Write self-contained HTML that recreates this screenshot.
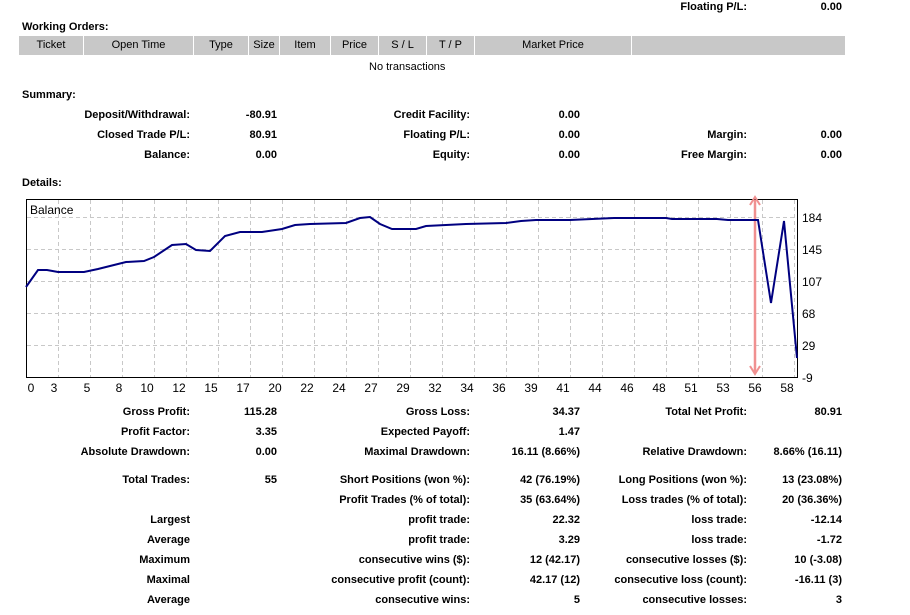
<!DOCTYPE html>
<html><head><meta charset="utf-8"><style>
body{margin:0;width:910px;height:615px;background:#fff;font-family:"Liberation Sans",sans-serif;font-size:11px;font-weight:bold;color:#000;position:relative;overflow:hidden}
.a{position:absolute;white-space:nowrap;line-height:13px;margin-top:1px}
.r{text-align:right}
.th{position:absolute;top:36px;height:19px;background:#c8c8c8;font-weight:normal;text-align:center;line-height:19px}
</style></head><body>
<div class="a r" style="right:163px;top:0">Floating P/L:</div>
<div class="a r" style="right:68px;top:0">0.00</div>
<div class="a" style="left:22px;top:20px">Working Orders:</div>
<div class="th" style="left:19px;width:64px">Ticket</div>
<div class="th" style="left:84px;width:109px">Open Time</div>
<div class="th" style="left:194px;width:54px">Type</div>
<div class="th" style="left:249px;width:30px">Size</div>
<div class="th" style="left:280px;width:50px">Item</div>
<div class="th" style="left:331px;width:47px">Price</div>
<div class="th" style="left:379px;width:47px">S / L</div>
<div class="th" style="left:427px;width:47px">T / P</div>
<div class="th" style="left:475px;width:156px">Market Price</div>
<div class="th" style="left:632px;width:213px"></div>
<div class="a" style="left:369px;top:60px;font-weight:normal">No transactions</div>
<div class="a" style="left:22px;top:88px">Summary:</div>

<div class="a r" style="right:720px;top:108px">Deposit/Withdrawal:</div><div class="a r" style="right:633px;top:108px">-80.91</div>
<div class="a r" style="right:440px;top:108px">Credit Facility:</div><div class="a r" style="right:330px;top:108px">0.00</div>
<div class="a r" style="right:720px;top:128px">Closed Trade P/L:</div><div class="a r" style="right:633px;top:128px">80.91</div>
<div class="a r" style="right:440px;top:128px">Floating P/L:</div><div class="a r" style="right:330px;top:128px">0.00</div>
<div class="a r" style="right:163px;top:128px">Margin:</div><div class="a r" style="right:68px;top:128px">0.00</div>
<div class="a r" style="right:720px;top:148px">Balance:</div><div class="a r" style="right:633px;top:148px">0.00</div>
<div class="a r" style="right:440px;top:148px">Equity:</div><div class="a r" style="right:330px;top:148px">0.00</div>
<div class="a r" style="right:163px;top:148px">Free Margin:</div><div class="a r" style="right:68px;top:148px">0.00</div>
<div class="a" style="left:22px;top:176px">Details:</div>

<svg style="position:absolute;left:0;top:0;font-weight:normal" width="910" height="400" font-family="Liberation Sans, sans-serif" font-size="12" font-weight="normal">
<g stroke="#c8c8c8" stroke-dasharray="4,3" stroke-width="1">
<path d="M58.5 200V377M90.5 200V377M122.5 200V377M154.5 200V377M186.5 200V377M218.5 200V377M250.5 200V377M282.5 200V377M314.5 200V377M346.5 200V377M378.5 200V377M410.5 200V377M442.5 200V377M474.5 200V377M506.5 200V377M538.5 200V377M570.5 200V377M602.5 200V377M634.5 200V377M666.5 200V377M698.5 200V377M730.5 200V377M762.5 200V377M794.5 200V377"/>
<path d="M27 217.5H797M27 249.5H797M27 281.5H797M27 313.5H797M27 345.5H797"/>
</g>
<rect x="26.5" y="199.5" width="771" height="178" fill="none" stroke="#000"/>
<text x="30" y="214" font-weight="normal">Balance</text>
<line x1="755" y1="200" x2="755" y2="372" stroke="#f09090" stroke-width="2.5"/>
<path d="M750 205L755 197L760 205M750 366L755 374L760 366" fill="none" stroke="#f09090" stroke-width="2"/>
<polyline fill="none" stroke="#000080" stroke-width="2" points="26,287 38,270 47,270 58,272 84,272 98,269 118,264 126,262 144,261 154,257 172,245 186,244 196,250 210,251 225,236 240,232 262,232 282,229 295,225 310,224 346,223 360,218 370,217 380,224 392,229 416,229 426,226 466,224 506,223 521,221 536,220 570,220 614,218 666,218 672,219 717,219 728,220 758,220 771,303 784,221 797,358"/>
<g font-weight="normal">
<text x="802" y="222">184</text><text x="802" y="254">145</text><text x="802" y="286">107</text><text x="802" y="318">68</text><text x="802" y="350">29</text><text x="802" y="382">-9</text>
</g>
<g text-anchor="middle" font-weight="normal">
<text x="31" y="392">0</text><text x="54" y="392">3</text><text x="87" y="392">5</text><text x="119" y="392">8</text><text x="147" y="392">10</text><text x="179" y="392">12</text><text x="211" y="392">15</text><text x="243" y="392">17</text><text x="275" y="392">20</text><text x="307" y="392">22</text><text x="339" y="392">24</text><text x="371" y="392">27</text><text x="403" y="392">29</text><text x="435" y="392">32</text><text x="467" y="392">34</text><text x="499" y="392">36</text><text x="531" y="392">39</text><text x="563" y="392">41</text><text x="595" y="392">44</text><text x="627" y="392">46</text><text x="659" y="392">48</text><text x="691" y="392">51</text><text x="723" y="392">53</text><text x="755" y="392">56</text><text x="787" y="392">58</text>
</g>
</svg>

<div class="a r" style="right:720px;top:405px">Gross Profit:</div><div class="a r" style="right:633px;top:405px">115.28</div>
<div class="a r" style="right:440px;top:405px">Gross Loss:</div><div class="a r" style="right:330px;top:405px">34.37</div>
<div class="a r" style="right:163px;top:405px">Total Net Profit:</div><div class="a r" style="right:68px;top:405px">80.91</div>
<div class="a r" style="right:720px;top:425px">Profit Factor:</div><div class="a r" style="right:633px;top:425px">3.35</div>
<div class="a r" style="right:440px;top:425px">Expected Payoff:</div><div class="a r" style="right:330px;top:425px">1.47</div>
<div class="a r" style="right:720px;top:445px">Absolute Drawdown:</div><div class="a r" style="right:633px;top:445px">0.00</div>
<div class="a r" style="right:440px;top:445px">Maximal Drawdown:</div><div class="a r" style="right:330px;top:445px">16.11 (8.66%)</div>
<div class="a r" style="right:163px;top:445px">Relative Drawdown:</div><div class="a r" style="right:68px;top:445px">8.66% (16.11)</div>
<div class="a r" style="right:720px;top:473px">Total Trades:</div><div class="a r" style="right:633px;top:473px">55</div>
<div class="a r" style="right:440px;top:473px">Short Positions (won %):</div><div class="a r" style="right:330px;top:473px">42 (76.19%)</div>
<div class="a r" style="right:163px;top:473px">Long Positions (won %):</div><div class="a r" style="right:68px;top:473px">13 (23.08%)</div>
<div class="a r" style="right:440px;top:493px">Profit Trades (% of total):</div><div class="a r" style="right:330px;top:493px">35 (63.64%)</div>
<div class="a r" style="right:163px;top:493px">Loss trades (% of total):</div><div class="a r" style="right:68px;top:493px">20 (36.36%)</div>
<div class="a r" style="right:720px;top:513px">Largest</div>
<div class="a r" style="right:440px;top:513px">profit trade:</div><div class="a r" style="right:330px;top:513px">22.32</div>
<div class="a r" style="right:163px;top:513px">loss trade:</div><div class="a r" style="right:68px;top:513px">-12.14</div>
<div class="a r" style="right:720px;top:533px">Average</div>
<div class="a r" style="right:440px;top:533px">profit trade:</div><div class="a r" style="right:330px;top:533px">3.29</div>
<div class="a r" style="right:163px;top:533px">loss trade:</div><div class="a r" style="right:68px;top:533px">-1.72</div>
<div class="a r" style="right:720px;top:553px">Maximum</div>
<div class="a r" style="right:440px;top:553px">consecutive wins ($):</div><div class="a r" style="right:330px;top:553px">12 (42.17)</div>
<div class="a r" style="right:163px;top:553px">consecutive losses ($):</div><div class="a r" style="right:68px;top:553px">10 (-3.08)</div>
<div class="a r" style="right:720px;top:573px">Maximal</div>
<div class="a r" style="right:440px;top:573px">consecutive profit (count):</div><div class="a r" style="right:330px;top:573px">42.17 (12)</div>
<div class="a r" style="right:163px;top:573px">consecutive loss (count):</div><div class="a r" style="right:68px;top:573px">-16.11 (3)</div>
<div class="a r" style="right:720px;top:593px">Average</div>
<div class="a r" style="right:440px;top:593px">consecutive wins:</div><div class="a r" style="right:330px;top:593px">5</div>
<div class="a r" style="right:163px;top:593px">consecutive losses:</div><div class="a r" style="right:68px;top:593px">3</div>
</body></html>
